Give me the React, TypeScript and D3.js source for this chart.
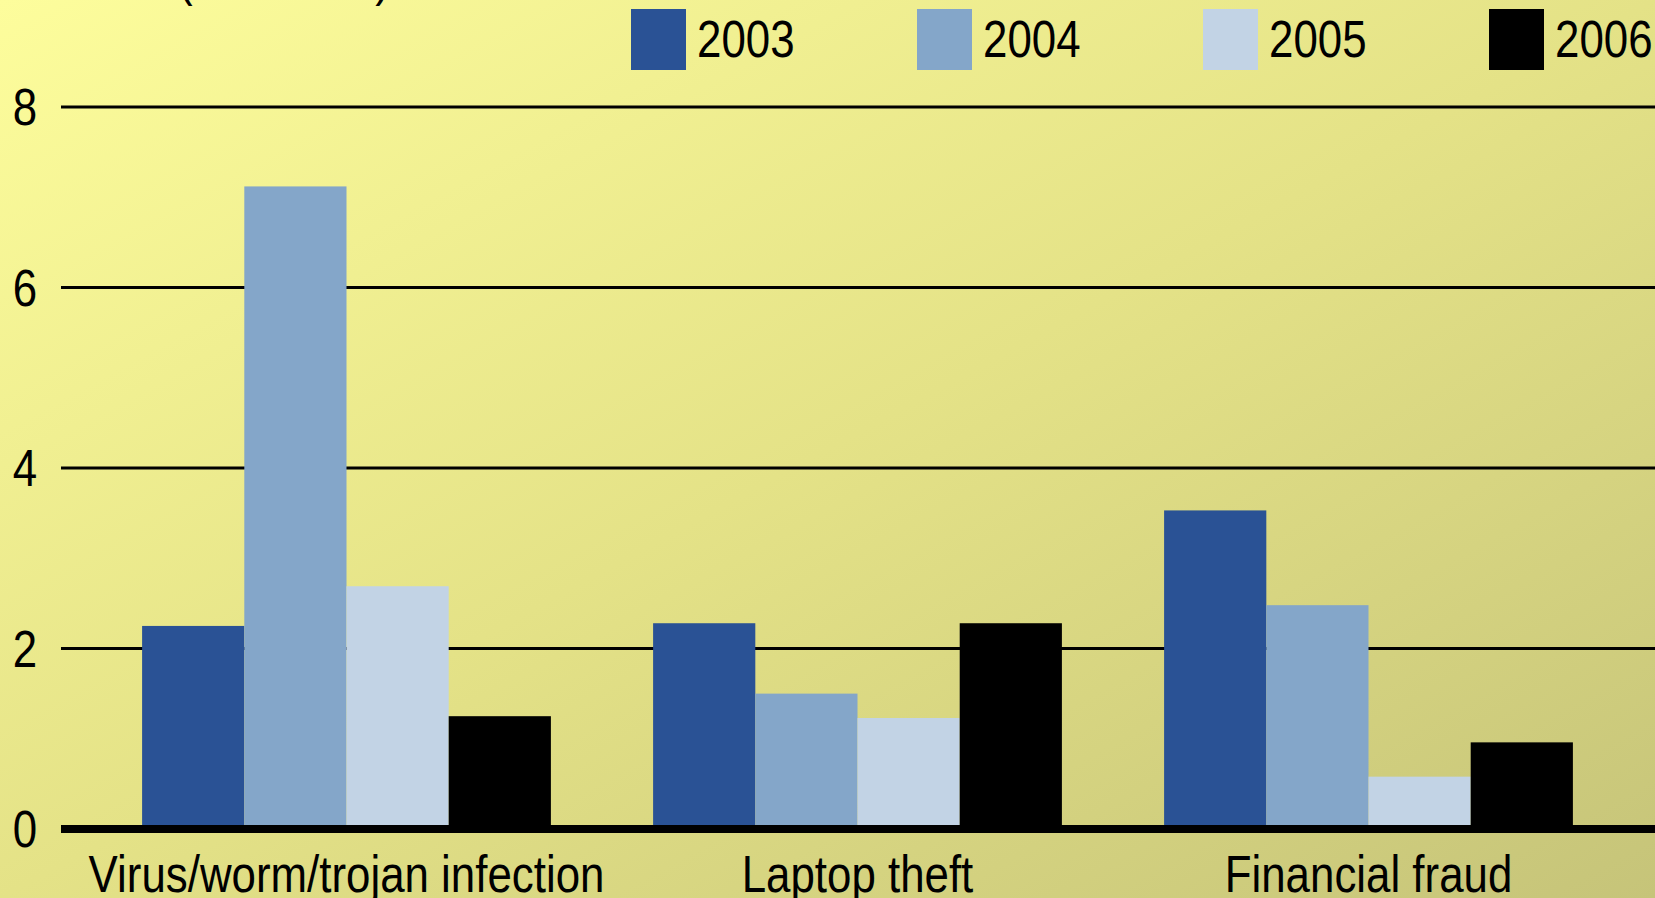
import React, { useRef, useEffect } from "react";
import * as d3 from "d3";

// Chart data
const categories = ["Virus/worm/trojan infection", "Laptop theft", "Financial fraud"];
const years = ["2003", "2004", "2005", "2006"];
const values2003 = [2.25, 2.28, 3.53];
const values2004 = [7.12, 1.5, 2.48];
const values2005 = [2.69, 1.23, 0.58];
const values2006 = [1.25, 2.28, 0.96];
const yTicks = [0, 2, 4, 6, 8];
const colors = ["#2a5295", "#84a6c9", "#c2d3e5", "#000000"];

const App: React.FC = () => {
  const svgRef = useRef<SVGSVGElement | null>(null);
  const width = 1655;
  const height = 898;

  useEffect(() => {
    if (!svgRef.current) return;
    const svg = d3.select(svgRef.current);
    svg.selectAll("*").remove();

    const font = "'Liberation Sans', Arial, sans-serif";
    const squeeze = 0.86;

    // Background gradient
    const defs = svg.append("defs");
    const grad = defs
      .append("linearGradient")
      .attr("id", "bg")
      .attr("x1", "0")
      .attr("y1", "0")
      .attr("x2", "1")
      .attr("y2", "1");
    grad.append("stop").attr("offset", "0%").attr("stop-color", "#fdfd9c");
    grad.append("stop").attr("offset", "50%").attr("stop-color", "#e4e287");
    grad.append("stop").attr("offset", "100%").attr("stop-color", "#c6c479");
    svg
      .append("rect")
      .attr("width", width)
      .attr("height", height)
      .attr("fill", "url(#bg)");

    // Scales
    const x0 = d3
      .scaleBand()
      .domain(categories)
      .range([91, 1624])
      .paddingInner(0.2)
      .paddingOuter(0.1);
    const x1 = d3.scaleBand().domain(years).range([0, x0.bandwidth()]).padding(0);
    const y = d3.scaleLinear().domain([0, 8]).range([829, 107]);
    const color = d3.scaleOrdinal<string, string>().domain(years).range(colors);

    const series = [values2003, values2004, values2005, values2006];
    const rows = categories.flatMap((c, ci) =>
      years.map((yr, yi) => ({ cat: c, year: yr, value: series[yi][ci] }))
    );

    // Gridlines
    svg
      .append("g")
      .selectAll("line")
      .data(yTicks.filter((t) => t > 0))
      .enter()
      .append("line")
      .attr("x1", 61)
      .attr("x2", width)
      .attr("y1", (d) => y(d))
      .attr("y2", (d) => y(d))
      .attr("stroke", "#000")
      .attr("stroke-width", 3);

    // Bars
    svg
      .append("g")
      .selectAll("rect")
      .data(rows)
      .enter()
      .append("rect")
      .attr("x", (d) => x0(d.cat)! + x1(d.year)!)
      .attr("y", (d) => y(d.value))
      .attr("width", x1.bandwidth())
      .attr("height", (d) => y(0) - y(d.value))
      .attr("fill", (d) => color(d.year));

    // Baseline
    svg
      .append("line")
      .attr("x1", 61)
      .attr("x2", width)
      .attr("y1", y(0))
      .attr("y2", y(0))
      .attr("stroke", "#000")
      .attr("stroke-width", 8);

    // Y tick labels
    svg
      .append("g")
      .selectAll("text")
      .data(yTicks)
      .enter()
      .append("text")
      .attr("transform", (d) => `translate(25,${y(d)}) scale(${squeeze},1)`)
      .attr("text-anchor", "middle")
      .attr("dy", "0.36em")
      .attr("font-family", font)
      .attr("font-size", 51)
      .attr("fill", "#000")
      .text((d) => d);

    // Category labels
    svg
      .append("g")
      .selectAll("text")
      .data(categories)
      .enter()
      .append("text")
      .attr(
        "transform",
        (d) => `translate(${x0(d)! + x0.bandwidth() / 2},892) scale(${squeeze},1)`
      )
      .attr("text-anchor", "middle")
      .attr("font-family", font)
      .attr("font-size", 51)
      .attr("fill", "#000")
      .text((d) => d);

    // Title (mostly cut off at top)
    svg
      .append("text")
      .attr("transform", `translate(178,-5) scale(${squeeze},1)`)
      .attr("font-family", font)
      .attr("font-size", 51)
      .attr("fill", "#000")
      .text("($ millions)");

    // Legend
    const legend = svg
      .append("g")
      .selectAll("g")
      .data(years)
      .enter()
      .append("g")
      .attr("transform", (_d, i) => `translate(${631 + i * 286},9)`);
    legend
      .append("rect")
      .attr("width", 55)
      .attr("height", 61)
      .attr("fill", (d) => color(d));
    legend
      .append("text")
      .attr("transform", `translate(66,48) scale(${squeeze},1)`)
      .attr("font-family", font)
      .attr("font-size", 51)
      .attr("fill", "#000")
      .text((d) => d);
  }, []);

  return (
    <svg
      ref={svgRef}
      width={width}
      height={height}
      style={{ position: "absolute", left: 0, top: 0, display: "block" }}
    />
  );
};

export default App;
